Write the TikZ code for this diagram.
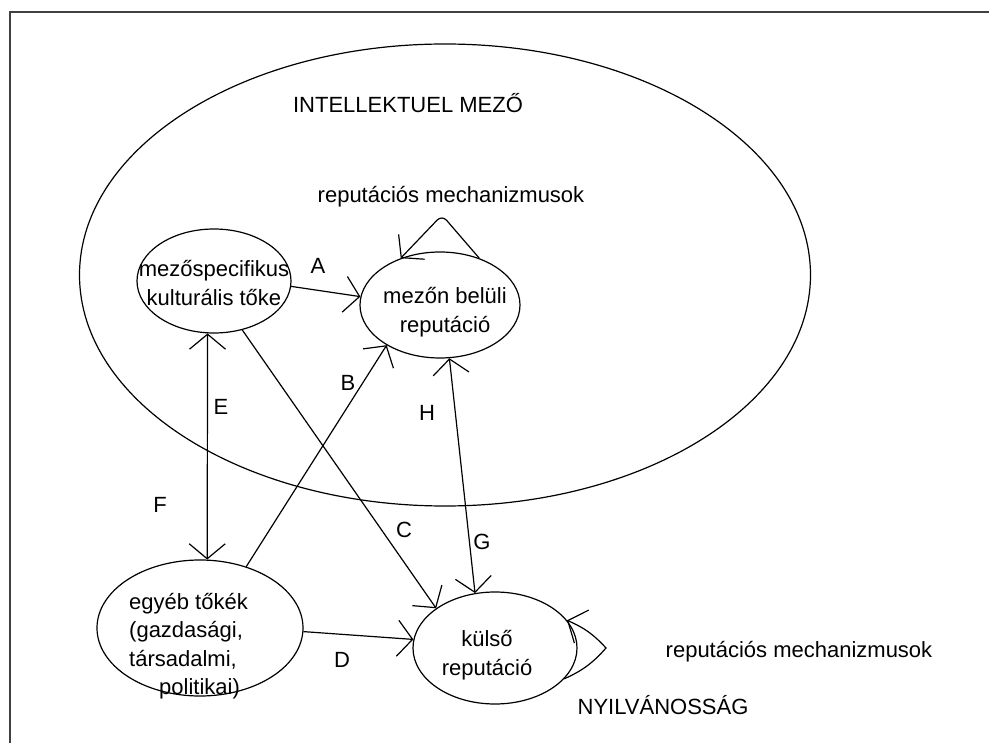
\documentclass[tikz,border=0pt]{standalone}
\usepackage{fontspec}
\setmainfont{Liberation Sans}
\usetikzlibrary{shapes.geometric,arrows.meta}
\begin{document}
\begin{tikzpicture}[x=1pt,y=-1pt,
  every node/.style={font=\fontsize{22}{28.5}\selectfont, inner sep=0pt},
  barb/.tip={Straight Barb[length=15pt,width=36pt]},
  oval/.style={draw, ellipse, line width=1.2pt},
  txt/.style={align=center},
  conn/.style={line width=1.2pt, -barb},
  dconn/.style={line width=1.2pt, barb-barb}]
\useasboundingbox (0,0) rectangle (989,743);
% frame
\draw[line width=2pt, black!75] (10,743) -- (10,12) -- (989,12);
% big field
\node[oval, minimum width=731pt, minimum height=462pt] (field) at (445,275) {};
\node (fieldlbl) at (408,103) {INTELLEKTUEL MEZŐ};
\node (mech1) at (451,197) {reputációs mechanizmusok};
% nodes
\node[oval, minimum width=154pt, minimum height=104pt] (n1) at (214,281) {};
\node[txt] (n1t) at (214,283) {mezőspecifikus\\kulturális tőke};
\node[oval, minimum width=160pt, minimum height=106pt] (n2) at (440,305) {};
\node[txt] (n2t) at (445,312) {mezőn belüli\\reputáció};
\node[oval, minimum width=206pt, minimum height=136pt] (n3) at (200,628) {};
\node[align=left, anchor=west] (n3t) at (129,646) {egyéb tőkék\\(gazdasági,\\társadalmi,\\\hspace*{30pt}politikai)};
\node[oval, minimum width=164pt, minimum height=112pt] (n4) at (495,648) {};
\node[txt] (n4t) at (487,655) {külső\\reputáció};
\node (mech2) at (799,652) {reputációs mechanizmusok};
\node (publ) at (663,705) {NYILVÁNOSSÁG};
% connectors
\draw[conn] (n1.-4) -- (n2.174);
\draw[dconn] (n1.263) -- (n3.84);
\draw[conn] (n1.-60) -- (n4.146.5);
\draw[conn] (n3.53.6) -- (n2.217.4);
\draw[dconn] (n2.280.7) -- (n4.110);
\draw[conn] (n3.-2) -- (n4.174.4);
\coordinate (loopA) at (442,215);
\draw[conn, rounded corners=7pt] (n2.50.4) -- (loopA) -- (n2.130.7);
\coordinate (loopB) at (606,648);
\draw[conn] (n4.-24) to[bend right=12] (loopB) to[bend right=12] (n4.21);
% edge labels
\node (lA) at (318,266) {A};
\node (lB) at (348,383) {B};
\node (lC) at (404,530) {C};
\node (lD) at (342,660) {D};
\node (lE) at (221,407) {E};
\node (lF) at (160,505) {F};
\node (lG) at (482,542) {G};
\node (lH) at (427,413) {H};
\end{tikzpicture}
\end{document}
